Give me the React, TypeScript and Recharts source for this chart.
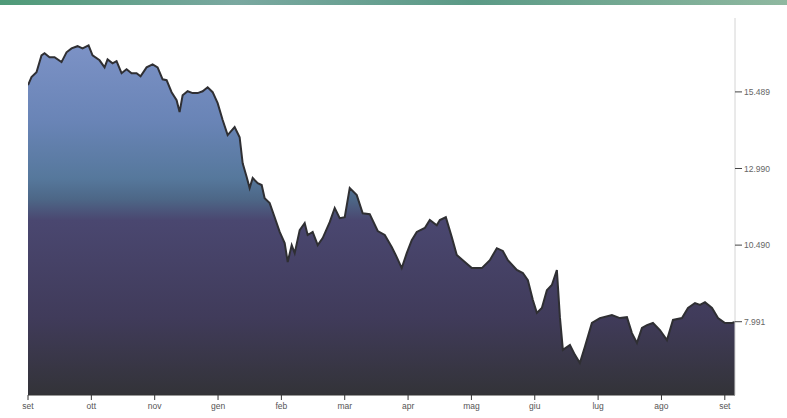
import React from 'react';
import { AreaChart, Area, XAxis, YAxis } from 'recharts';

// month labels (sep -> sep)
const monthLabels = ['set', 'ott', 'nov', 'gen', 'feb', 'mar', 'apr', 'mag', 'giu', 'lug', 'ago', 'set'];
const monthTicks = [0, 1, 2, 3, 4, 5, 6, 7, 8, 9, 10, 11];
const valueTicks = [7.991, 10.49, 12.99, 15.489];

// position in months since start
const monthPos = [
  0, 0.055, 0.134, 0.213, 0.261, 0.34, 0.419, 0.529, 0.608, 0.687, 0.782, 0.861, 0.956, 1.019, 1.13, 1.209,
  1.256, 1.335, 1.398, 1.477, 1.556, 1.635, 1.714, 1.777, 1.872, 1.967, 2.046, 2.125, 2.188, 2.267, 2.346,
  2.393, 2.441, 2.52, 2.599, 2.678, 2.757, 2.836, 2.915, 2.994, 3.073, 3.152, 3.262, 3.341, 3.389, 3.452,
  3.499, 3.547, 3.626, 3.689, 3.736, 3.815, 3.894, 3.973, 4.052, 4.1, 4.163, 4.21, 4.289, 4.368, 4.415,
  4.494, 4.574, 4.652, 4.763, 4.842, 4.921, 5.0, 5.079, 5.19, 5.284, 5.395, 5.521, 5.632, 5.742, 5.821,
  5.9, 5.979, 6.058, 6.137, 6.264, 6.343, 6.453, 6.501, 6.596, 6.69, 6.769, 6.864, 7.006, 7.164, 7.291,
  7.401, 7.496, 7.575, 7.717, 7.812, 7.891, 7.97, 8.033, 8.112, 8.191, 8.27, 8.349, 8.397, 8.444, 8.555,
  8.634, 8.712, 8.791, 8.902, 9.028, 9.218, 9.344, 9.455, 9.534, 9.613, 9.692, 9.771, 9.866, 9.976,
  10.087, 10.182, 10.324, 10.419, 10.529, 10.608, 10.687, 10.798, 10.893, 11.003, 11.114, 11.161,
];

const prices = [
  15.71, 15.97, 16.13, 16.68, 16.75, 16.62, 16.62, 16.46, 16.78, 16.91, 16.98, 16.91, 17.01, 16.68, 16.52, 16.29,
  16.55, 16.42, 16.49, 16.1, 16.23, 16.1, 16.1, 16.0, 16.29, 16.39, 16.29, 15.9, 15.87, 15.48, 15.22,
  14.83, 15.38, 15.51, 15.45, 15.45, 15.51, 15.64, 15.48, 15.12, 14.57, 14.08, 14.34, 14.01, 13.16, 12.71,
  12.35, 12.68, 12.51, 12.45, 12.02, 11.86, 11.4, 10.92, 10.56, 9.94, 10.49, 10.23, 10.98, 11.21, 10.82,
  10.92, 10.49, 10.72, 11.24, 11.7, 11.37, 11.4, 12.35, 12.12, 11.53, 11.5, 10.95, 10.82, 10.43, 10.1,
  9.74, 10.23, 10.65, 10.92, 11.05, 11.31, 11.14, 11.31, 11.4, 10.75, 10.17, 10.0, 9.74, 9.74, 10.0,
  10.39, 10.3, 10.0, 9.68, 9.58, 9.35, 8.7, 8.28, 8.44, 9.02, 9.19, 9.68, 8.14, 7.07, 7.23,
  6.91, 6.64, 7.17, 7.95, 8.11, 8.21, 8.11, 8.14, 7.62, 7.3, 7.79, 7.88, 7.95, 7.72,
  7.39, 8.05, 8.11, 8.44, 8.6, 8.54, 8.63, 8.44, 8.11, 7.95, 7.95, 7.98,
];

const data = monthPos.map((m, i) => ({ m, v: prices[i] }));

export default function App() {
  return (
    <div style={{ position: 'absolute', left: 0, top: 0, width: 787, height: 418, background: '#fff' }}>
      <div
        style={{
          position: 'absolute',
          left: 0,
          top: 0,
          width: 787,
          height: 5,
          background: 'linear-gradient(90deg, #4f9a78, #7aa8a0 30%, #5b9a86 60%, #8fb8a0)',
        }}
      />
      <AreaChart width={787} height={418} data={data} margin={{ top: 18, right: 6, bottom: 3, left: 28 }}>
        <defs>
          <linearGradient id="fillGrad" x1="0" y1="0" x2="0" y2="1">
            <stop offset="0%" stopColor="#7c92c6" />
            <stop offset="22%" stopColor="#6984b6" />
            <stop offset="38%" stopColor="#56789c" />
            <stop offset="44%" stopColor="#4d6787" />
            <stop offset="50%" stopColor="#4a4770" />
            <stop offset="78%" stopColor="#403b5a" />
            <stop offset="100%" stopColor="#333338" />
          </linearGradient>
        </defs>
        <XAxis
          dataKey="m"
          type="number"
          domain={[0, 11.161]}
          ticks={monthTicks}
          tickFormatter={(t: number) => monthLabels[t] ?? ''}
          interval={0}
          height={20}
          tickSize={5}
          stroke="#333"
          tick={{ fontSize: 8.5, fill: '#555', fontFamily: 'Liberation Sans, Arial, sans-serif', dy: 1 }}
          allowDataOverflow
        />
        <YAxis
          orientation="right"
          type="number"
          domain={[5.6, 17.9]}
          ticks={valueTicks}
          tickFormatter={(t: number) => t.toFixed(3)}
          width={46}
          tickSize={7}
          axisLine={{ stroke: '#d4d4d4' }}
          tickLine={{ stroke: '#444' }}
          tick={{ fontSize: 8.5, fill: '#666', fontFamily: 'Liberation Sans, Arial, sans-serif' }}
          allowDataOverflow
        />
        <Area
          type="linear"
          dataKey="v"
          stroke="#2f2f33"
          strokeWidth={2}
          fill="url(#fillGrad)"
          fillOpacity={1}
          isAnimationActive={false}
          dot={false}
          activeDot={false}
        />
      </AreaChart>
    </div>
  );
}
